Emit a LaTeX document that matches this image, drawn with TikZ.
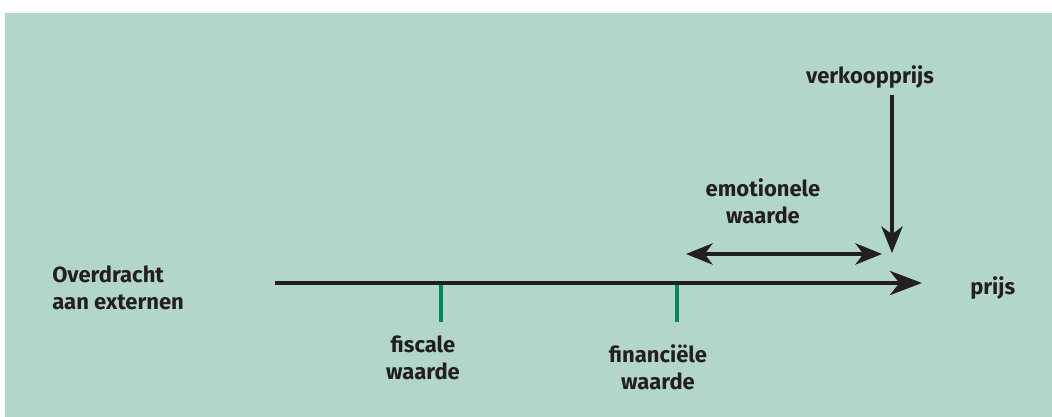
\documentclass[tikz,border=0pt]{standalone}
\usepackage{fontspec}
\setmainfont{Fira Sans}
\usetikzlibrary{arrows.meta}
\definecolor{panel}{HTML}{B3D6CA}
\definecolor{tickgreen}{HTML}{00875A}
\definecolor{ink}{HTML}{231F20}
\begin{document}
\begin{tikzpicture}[x=0.75pt,y=-0.75pt,
  lbl/.style={font=\bfseries\fontsize{16.5}{20.3}\selectfont, text=ink, align=center, inner sep=0pt},
  axis/.style={draw=ink, line width=3pt, -{Stealth[length=24pt,width=18pt,inset=7pt]}},
  pointer/.style={draw=ink, line width=2.6pt, -{Stealth[length=20pt,width=16pt,inset=6pt]}},
  span/.style={draw=ink, line width=2.6pt, {Stealth[length=20pt,width=16pt,inset=6pt]}-{Stealth[length=20pt,width=16pt,inset=6pt]}},
  tick/.style={draw=tickgreen, line width=3pt}]
  \useasboundingbox (0,0) rectangle (1052,417);
  \fill[panel] (5,13) rectangle (1052,417);

  % price axis
  \coordinate (axL) at (275,283);
  \coordinate (axR) at (922,283);
  \draw[axis] (axL) -- (axR);

  % value ticks
  \coordinate (f1) at (441,285);
  \coordinate (f1b) at (441,322);
  \coordinate (f2) at (677,285);
  \coordinate (f2b) at (677,322);
  \draw[tick] (f1) -- (f1b);
  \draw[tick] (f2) -- (f2b);

  % labels
  \node[lbl, align=left, anchor=west] (over) at (52,288) {Overdracht\\aan externen};
  \node[lbl, anchor=west] (prijs) at (970,288) {prijs};
  \node[lbl] (fisc) at (423,358) {fiscale\\waarde};
  \node[lbl] (fin) at (658,367) {financiële\\waarde};
  \node[lbl] (emo) at (763,201) {emotionele\\waarde};
  \node[lbl] (verk) at (870,77) {verkoopprijs};

  % selling price pointer and emotional value span
  \coordinate (vtop) at (892,95);
  \coordinate (vbot) at (892,253);
  \draw[pointer] (vtop) -- (vbot);
  \coordinate (eL) at (686,254);
  \coordinate (eR) at (882,254);
  \draw[span] (eL) -- (eR);
\end{tikzpicture}
\end{document}
